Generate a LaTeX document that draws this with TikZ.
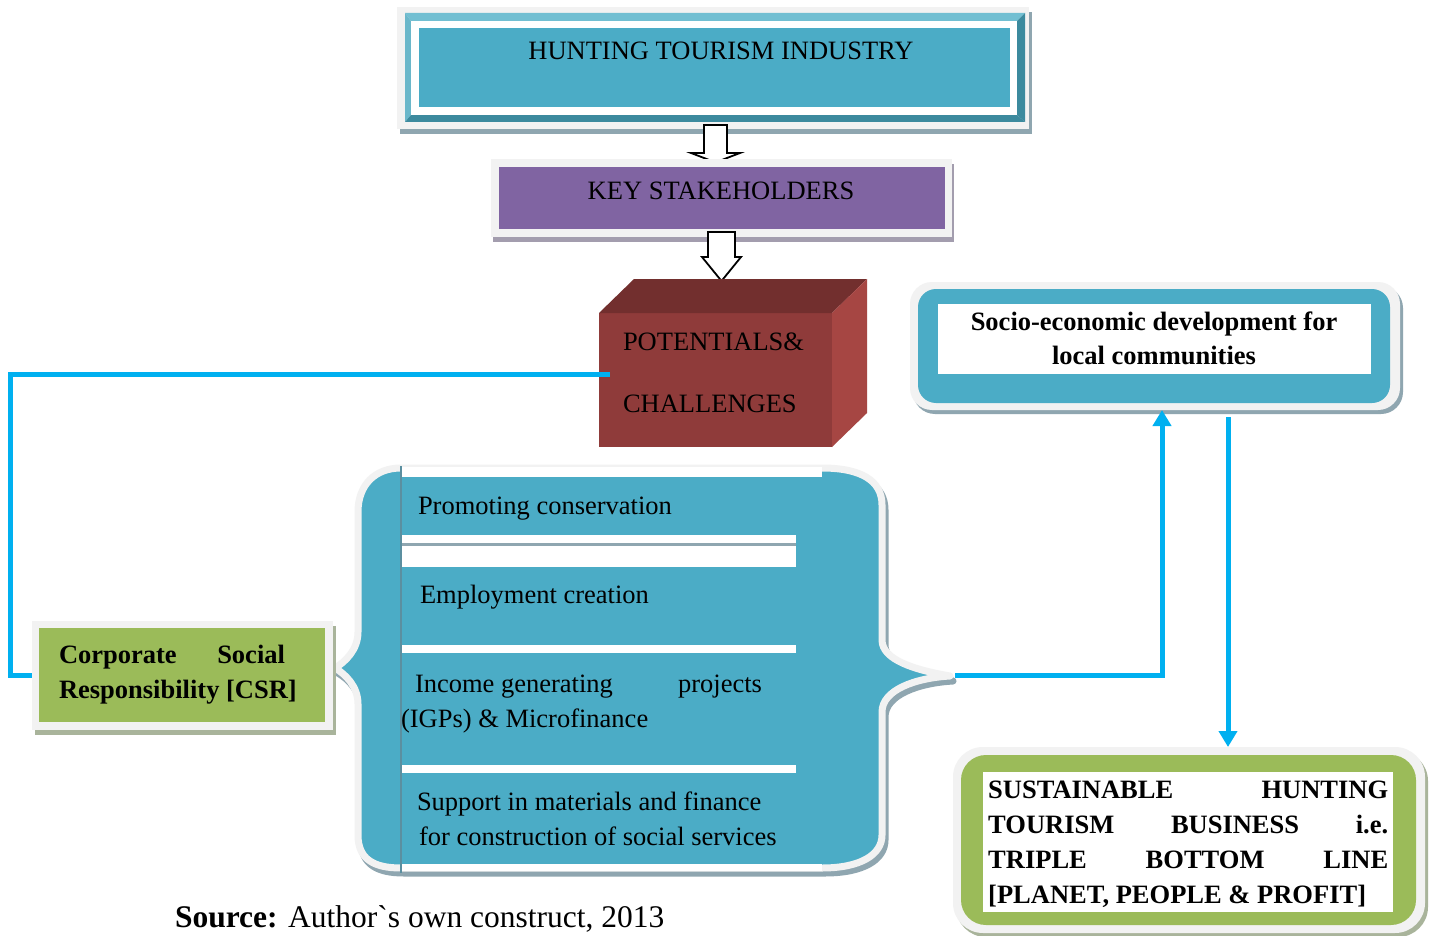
\documentclass[tikz,border=0pt]{standalone}
\usepackage{fontspec}
\setmainfont{Liberation Serif}
\usetikzlibrary{calc,arrows.meta,shadows}
\definecolor{cTeal}{HTML}{4BACC6}
\definecolor{cPurple}{HTML}{8064A2}
\definecolor{cGreen}{HTML}{9BBB59}
\definecolor{cBlue}{HTML}{00B0F0}
\definecolor{cFrame}{HTML}{F2F2F2}
\definecolor{cShT}{HTML}{8FA6B0}
\definecolor{cShP}{HTML}{A39DAE}
\definecolor{cShG}{HTML}{A9B49B}
\definecolor{cBevL}{HTML}{72BFD2}
\definecolor{cBevD}{HTML}{3C8A9E}
\definecolor{cFront}{HTML}{8F3B3A}
\definecolor{cTop}{HTML}{722F2E}
\definecolor{cSide}{HTML}{A64643}
\definecolor{cVline}{HTML}{5B8FA0}
\begin{document}
\begin{tikzpicture}[x=1pt,y=-1pt,
  every node/.style={font=\fontsize{26.5}{31}\selectfont, inner sep=0pt, outer sep=0pt},
  frame/.style={fill=cFrame, anchor=north west},
  blueline/.style={draw=cBlue, line width=5pt},
  tipA/.style={-{Triangle[width=18pt,length=16pt]}},
  hollow/.style={draw=black, line width=1.8pt, fill=white, line join=miter},
  lbl/.style={anchor=base west},
]
\useasboundingbox[fill=white] (0,0) rectangle (1434,936);

% ---------- top box
\node[frame, minimum width=632pt, minimum height=122pt,
      drop shadow={shadow xshift=3pt,shadow yshift=-5pt,fill=cShT,opacity=1}] (hti) at (397,7) {};
\fill[cBevL] (405,13) -- (1025,13) -- (1017,21) -- (411,21) -- cycle;
\fill[cBevL!85!cBevD] (405,13) -- (411,21) -- (411,115) -- (405,122) -- cycle;
\fill[cBevD] (1025,13) -- (1025,122) -- (1017,115) -- (1017,21) -- cycle;
\fill[cBevD] (405,122) -- (411,115) -- (1017,115) -- (1025,122) -- cycle;
\fill[white] (411,21) rectangle (1017,115);
\fill[cTeal] (419,28) rectangle (1010,107);
\node[anchor=base] (htit) at (721,60) {HUNTING TOURISM INDUSTRY};

% hollow arrow 1
\draw[hollow] ($(hti.south)+(-9,-4)$) -- ++(23,0) -- ++(0,28) -- ++(13,0)
   -- ++(-24.5,9.4) -- ++(-24.5,-9.4) -- ++(13,0) -- cycle;

% ---------- key stakeholders
\node[frame, minimum width=461pt, minimum height=78pt,
      drop shadow={shadow xshift=2pt,shadow yshift=-5pt,fill=cShP,opacity=1}] (ks) at (491,159) {};
\fill[cPurple] (499,167) rectangle (945,229);
\node[anchor=base] (kst) at (721,200) {KEY STAKEHOLDERS};

% hollow arrow 2
\draw[hollow] ($(ks.south)+(-13.5,-5)$) -- ++(27,0) -- ++(0,25) -- ++(6,0)
   -- ++(-19.5,24) -- ++(-19.5,-24) -- ++(6,0) -- cycle;

% ---------- cube
\node[fill=cFront, anchor=north west, minimum width=233pt, minimum height=134pt] (pc) at (599,313) {};
\fill[cTop] (pc.north west) -- ++(35,-34) -- ++(233,0) -- (pc.north east) -- cycle;
\fill[cSide] (pc.north east) -- ++(35,-34) -- ++(0,134) -- (pc.south east) -- cycle;
\node[lbl] (pct1) at (623,350) {POTENTIALS\&};
\node[lbl] (pct2) at (623,412) {CHALLENGES};

% ---------- brace shape
\def\bracepath{(401,468)
  .. controls (375,468) and (358,485) .. (358,512) -- (358,632)
  .. controls (358,650) and (345,662) .. (335,668)
  .. controls (345,674) and (358,686) .. (358,704) -- (358,835)
  .. controls (358,860) and (375,868) .. (401,868) -- (822,868)
  .. controls (860,868) and (882,855) .. (882,835) -- (882,712)
  .. controls (882,690) and (915,678) .. (950,676)
  .. controls (915,670) and (882,660) .. (882,640) -- (882,505)
  .. controls (882,480) and (860,468) .. (822,468) -- cycle}
\draw[cShT, line width=7pt, line join=round, fill=cShT, shift={(3,5)}] \bracepath;
\draw[cFrame, line width=7pt, line join=round, fill=cTeal] \bracepath;
\fill[white] (401,467) rectangle (822,477);
\fill[white] (401,535) rectangle (796,567);
\fill[cShT] (401,543) rectangle (796,546);
\fill[white] (401,645) rectangle (796,653);
\fill[white] (401,765) rectangle (796,773);
\fill[white] (401,864) rectangle (822,871);
\draw[cVline, line width=1.3pt] (401,466) -- (401,873);
\node[lbl] (r1) at (418,514) {Promoting conservation};
\node[lbl] (r2) at (420,603) {Employment creation};
\node[lbl] (r3a) at (415,692) {\makebox[347pt][l]{Income generating\hfill projects}};
\node[lbl] (r3b) at (401,727) {(IGPs) \& Microfinance};
\node[lbl] (r4a) at (417,810) {Support in materials and finance};
\node[lbl] (r4b) at (419,845) {for construction of social services};
\coordinate (btip) at (955,675);

% ---------- CSR
\node[frame, minimum width=301pt, minimum height=109pt,
      drop shadow={shadow xshift=3pt,shadow yshift=-5pt,fill=cShG,opacity=1}] (csr) at (32,621) {};
\fill[cGreen] (39,628) rectangle (325,722);
\node[lbl, font=\fontsize{26.5}{31}\selectfont\bfseries] (csr1) at (59,663) {\makebox[226pt][l]{Corporate\hfill Social}};
\node[lbl, font=\fontsize{26.5}{31}\selectfont\bfseries] (csr2) at (59,698) {Responsibility [CSR]};

% ---------- socio-economic
\node[frame, minimum width=490pt, minimum height=128pt, rounded corners=22pt,
      drop shadow={shadow xshift=3pt,shadow yshift=-4pt,fill=cShT,opacity=1}] (socio) at (910,282) {};
\fill[cTeal, rounded corners=18pt] (918,289) rectangle (1390,403);
\fill[white] (938,304) rectangle (1371,374);
\node[anchor=base, font=\fontsize{26.5}{31}\selectfont\bfseries] (so1) at (1154,330) {Socio-economic development for};
\node[anchor=base, font=\fontsize{26.5}{31}\selectfont\bfseries] (so2) at (1154,364) {local communities};

% ---------- sustainable
\node[frame, minimum width=472pt, minimum height=186pt, rounded corners=30pt,
      drop shadow={shadow xshift=3pt,shadow yshift=-4pt,fill=cShG,opacity=1}] (sust) at (953,747) {};
\fill[cGreen, rounded corners=25pt] (961,755) rectangle (1416,925);
\fill[white] (983,772) rectangle (1393,912);
\begin{scope}[every node/.style={font=\fontsize{26.5}{31}\selectfont\bfseries, inner sep=0pt, anchor=base west}]
\node (su1) at (988,798) {\makebox[400pt][l]{SUSTAINABLE\hfill HUNTING}};
\node (su2) at (988,833) {\makebox[400pt][l]{TOURISM\hfill BUSINESS\hfill i.e.}};
\node (su3) at (988,868) {\makebox[400pt][l]{TRIPLE\hfill BOTTOM\hfill LINE}};
\node (su4) at (988,903) {[PLANET, PEOPLE \& PROFIT]};
\end{scope}

% ---------- connectors
\coordinate (pcL) at (610,374);
\coordinate (lft) at (10,0);
\coordinate (upx) at (1162,0);
\coordinate (dnx) at (1228,0);
\draw[blueline, line join=miter] (pcL) -| (lft |- csr.west) -- (csr.west);
\draw[blueline, tipA, line join=miter] (btip) -| (upx |- socio.south);
\draw[blueline, tipA] ($(dnx |- socio.south)+(0,7)$) -- (dnx |- sust.north);

% ---------- source
\node[lbl, font=\fontsize{31.5}{36}\selectfont] (src) at (175,927) {\textbf{Source:} Author\textasciigrave s own construct, 2013};
\end{tikzpicture}
\end{document}
